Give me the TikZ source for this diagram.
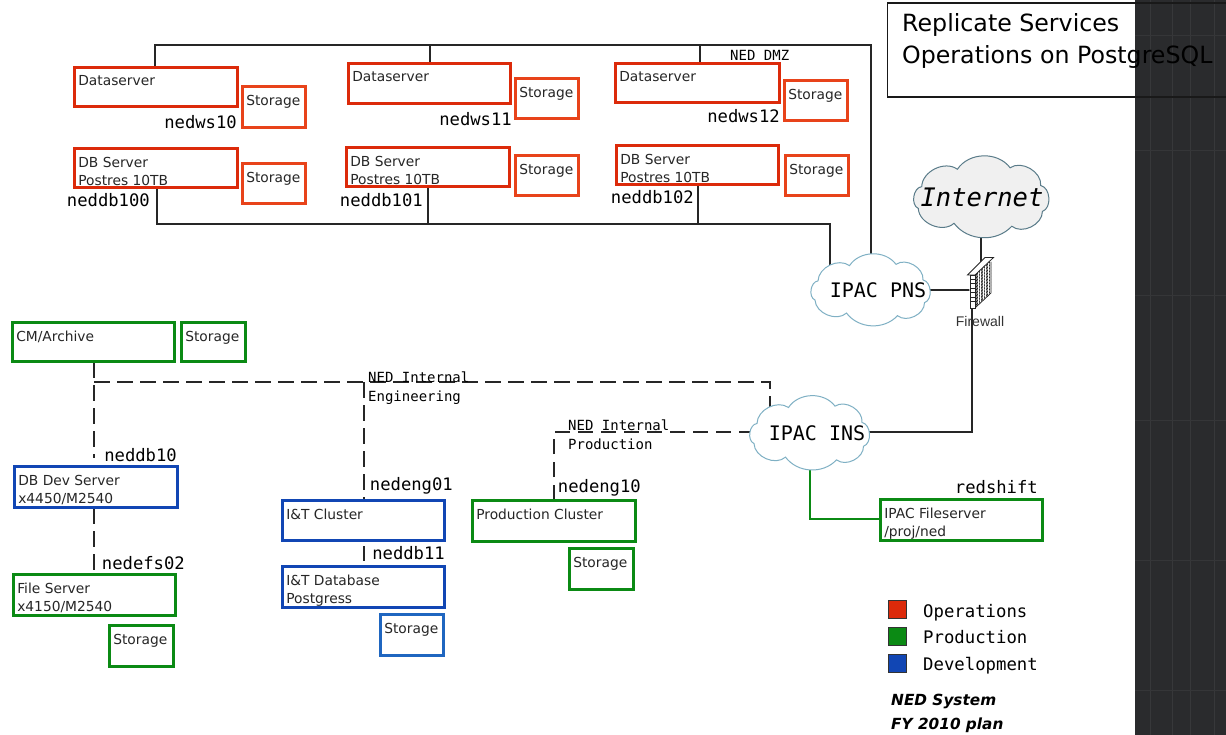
\documentclass[tikz,border=0pt]{standalone}
\usepackage{fontspec}
\setmainfont{DejaVu Sans}
\setmonofont{DejaVu Sans Mono}
\newfontfamily\armf{Liberation Sans}
\definecolor{opsred}{HTML}{DC2A0A}
\definecolor{stored}{HTML}{E8431A}
\definecolor{prodgreen}{HTML}{0B8A14}
\definecolor{devblue}{HTML}{1146B4}
\definecolor{devstore}{HTML}{1F66C0}
\definecolor{panel}{HTML}{2A2B2D}
\definecolor{cloudline}{HTML}{7FB0C4}
\tikzset{
  bx/.style={draw=#1,line width=2.8pt,inner sep=0pt,anchor=north west,font=\fontsize{13.8}{18.5}\selectfont,text=black!85},
  ln/.style={draw=black!85,line width=2pt},
  dsh/.style={ln,dash pattern=on 16pt off 7pt},
  dshb/.style={ln,line width=1.6pt,dash pattern=on 15pt off 8pt},
  tag/.style={font=\ttfamily\fontsize{17.2}{18}\selectfont,inner sep=0pt,anchor=base east,text=black},
  small/.style={font=\ttfamily\fontsize{14}{19.5}\selectfont,inner sep=0pt,anchor=base west,align=left,text=black},
  cltext/.style={inner sep=0pt,text=black},
  sq/.style={draw=black!80,line width=1.3pt,inner sep=0pt,minimum size=18pt,anchor=north west},
  leg/.style={font=\ttfamily\fontsize{17.3}{18}\selectfont,inner sep=0pt,anchor=base west},
  titl/.style={font=\itshape\bfseries\fontsize{15.3}{18}\selectfont,inner sep=0pt,anchor=base west}
}
% name, x1, y1, x2, y2, colour, text
\newcommand{\bxnode}[7]{%
  \node[bx=#6] (#1) at (#2-.7,#3-.7) {\parbox[c][\dimexpr #5pt-#3pt-1.4pt\relax][t]{\dimexpr #4pt-#2pt-1.4pt\relax}{\vspace{8.2pt}\hspace*{3.6pt}\parbox[t]{\dimexpr #4pt-#2pt-6pt\relax}{\raggedright #7}}};}
% centre x, centre y, half width, half height, fill, draw
\newcommand{\cloudshape}[6]{%
  \begin{scope}[shift={(#1,#2)},x=#3pt,y=-#4pt]
  \path[fill=#5,draw=#6,line width=1pt]
    (-.9,.31) to[bend left=75] (-.85,-.28) to[bend left=62] (-.325,-.75)
    to[bend left=55] (.45,-.79) to[bend left=65] (.9,-.31) to[bend left=75] (.925,.39)
    to[bend left=65] (.475,.79) to[bend left=50] (-.375,.71) to[bend left=65] cycle;
  \end{scope}}
\begin{document}
\begin{tikzpicture}[x=1pt,y=-1pt]
\useasboundingbox (0,0) rectangle (1226,735);
\fill[white] (0,0) rectangle (1226,735);
\fill[panel] (1135,0) rectangle (1226,735);
\begin{scope}
\clip (1135,0) rectangle (1226,735);
\foreach \x in {1150,1172,1190,1214} \draw[white!6!panel,line width=.6pt] (\x,0) -- (\x,735);
\foreach \y in {35,150,295,420,560,690} \draw[white!5!panel,line width=.6pt] (1135,\y) -- (1226,\y);
\end{scope}

% title box
\begin{scope}
\clip (0,0) rectangle (1226,735);
\node[draw=black!90,line width=1.8pt,inner sep=0pt,anchor=north west] (title) at (886.5,2) {\parbox[c][94pt][t]{360pt}{\hspace*{0pt}}};
\end{scope}
\node[font=\fontsize{23.7}{32}\selectfont,align=left,inner sep=0pt,anchor=north west] (titletext) at (902,13.5) {Replicate Services\\Operations on PostgreSQL};

% attachment points
\coordinate (a1) at (155,67);  \coordinate (a1t) at (155,45);
\coordinate (a2) at (430,63);  \coordinate (a2t) at (430,45);
\coordinate (a3) at (700,63);  \coordinate (a3t) at (700,45);
\coordinate (tr) at (871,45);  \coordinate (pt1) at (871,262);
\coordinate (d1) at (157,188); \coordinate (d1b) at (157,224);
\coordinate (d2) at (428,187); \coordinate (d2b) at (428,224);
\coordinate (d3) at (698,185); \coordinate (d3b) at (698,224);
\coordinate (bc) at (830,224); \coordinate (pt2) at (830,272);
\coordinate (pnc) at (871,290);
\coordinate (insc) at (810,432);
\coordinate (inc) at (981,197);
\coordinate (fwa) at (972,290);
\coordinate (fwb) at (972,305);
\coordinate (fwt) at (981,262);
\coordinate (fwc) at (972,432);
\coordinate (in1) at (810,460); \coordinate (in2) at (810,519); \coordinate (in3) at (880,519);
\coordinate (e0) at (94,382);  \coordinate (e1) at (94,362);
\coordinate (e2) at (94,458);  \coordinate (e3) at (94,508); \coordinate (e4) at (94,574);
\coordinate (e5) at (364,382); \coordinate (e6) at (364,500);
\coordinate (e7) at (364,546); \coordinate (e8) at (364,561);
\coordinate (e9) at (770,382); \coordinate (e10) at (770,412);
\coordinate (p1) at (554,500); \coordinate (p2) at (554,432); \coordinate (p3) at (760,432);

% connectors
\draw[ln] (a1) -- (a1t) -- (tr) -- (pt1);
\draw[ln] (a2) -- (a2t);
\draw[ln] (a3) -- (a3t);
\draw[ln] (d1) -- (d1b) -- (bc) -- (pt2);
\draw[ln] (d2) -- (d2b);
\draw[ln] (d3) -- (d3b);
\draw[ln] (fwa) -- (pnc);
\draw[ln] (fwt) -- (inc);
\draw[ln] (fwb) -- (fwc) -- (insc);
\draw[draw=prodgreen,line width=2.6pt] (in1) -- (in2) -- (in3);
\draw[dsh] (e1) -- (e2);
\draw[dsh] (e3) -- (e4);
\draw[dsh] (e0) -- (e9) -- (e10);
\draw[dsh] (e5) -- (e6);
\draw[ln] (e7) -- (e8);
\draw[dshb] (p1) -- (p2) -- (p3);

% clouds
\cloudshape{869}{290}{60}{32.5}{white}{cloudline}
\cloudshape{808}{433}{60}{34}{white}{cloudline}
\cloudshape{979.5}{197}{68}{37}{black!6}{black!30!cloudline}
\node[cltext,font=\ttfamily\fontsize{20}{20}\selectfont] (pns) at (878,290) {IPAC PNS};
\node[cltext,font=\ttfamily\fontsize{20}{20}\selectfont] (ins) at (817,433) {IPAC INS};
\node[cltext,font=\ttfamily\itshape\fontsize{25.5}{26}\selectfont] (inet) at (982,197) {Internet};

% firewall
\fill[white] (969,274) -- (992,258) -- (991,295) -- (975,308) -- (970,308) -- cycle;
\begin{scope}
\clip (975,275) -- (991,260) -- (991,293) -- (975,308) -- cycle;
\fill[black!40] (975,258) rectangle (991,308);
\foreach \k in {0,...,11}
  \draw[black!90,line width=.7pt] (975,276+\k*3) -- (991,261+\k*3);
\foreach \k in {0,...,6}
  \draw[white,line width=.5pt] (978+\k*2.5,255) -- (978+\k*2.5,308);
\end{scope}
\draw[black!85,line width=.7pt] (975,308) -- (991,293) -- (991,262);
\draw[black!85,line width=.8pt,fill=white] (970.5,275) rectangle (975,308);
\foreach \y in {279,283.5,288,292.5,297,301.5}
  \draw[black!85,line width=.8pt] (970.5,\y) -- (975,\y);
\draw[black!85,line width=.8pt,fill=white] (967.5,275) -- (985,257.5) -- (993.5,257.5) -- (975,275) -- cycle;
\node[font=\armf\fontsize{14}{14}\selectfont,inner sep=0pt,text=black!80] (fwl) at (980,321) {Firewall};

% red
\bxnode{ds1}{74}{67}{238}{107}{opsred}{Dataserver}
\bxnode{st1}{242}{86}{306}{128}{stored}{Storage}
\bxnode{db1}{74}{148}{238}{188}{opsred}{DB Server\\Postres 10TB}
\bxnode{st2}{242}{163}{306}{204}{stored}{Storage}
\bxnode{ds2}{348}{63}{511}{104}{opsred}{Dataserver}
\bxnode{st3}{515}{78}{579}{119}{stored}{Storage}
\bxnode{db2}{346}{147}{510}{187}{opsred}{DB Server\\Postres 10TB}
\bxnode{st4}{515}{155}{579}{196}{stored}{Storage}
\bxnode{ds3}{615}{63}{780}{103}{opsred}{Dataserver}
\bxnode{st5}{784}{80}{848}{121}{stored}{Storage}
\bxnode{db3}{616}{145}{779}{185}{opsred}{DB Server\\Postres 10TB}
\bxnode{st6}{785}{155}{849}{196}{stored}{Storage}
% green / blue
\bxnode{cm}{12}{322}{175}{362}{prodgreen}{CM/Archive}
\bxnode{st7}{181}{322}{246}{362}{prodgreen}{Storage}
\bxnode{dev}{14}{466}{178}{508}{devblue}{DB Dev Server\\x4450/M2540}
\bxnode{fs}{13}{574}{176}{616}{prodgreen}{File Server\\x4150/M2540}
\bxnode{st8}{109}{625}{174}{667}{prodgreen}{Storage}
\bxnode{it}{282}{500}{445}{541}{devblue}{I\&T Cluster}
\bxnode{itdb}{282}{566}{445}{608}{devblue}{I\&T Database\\Postgress}
\bxnode{st9}{380}{614}{444}{656}{devstore}{Storage}
\bxnode{pc}{472}{500}{636}{542}{prodgreen}{Production Cluster}
\bxnode{st10}{569}{548}{634}{590}{prodgreen}{Storage}
\bxnode{fsv}{880}{499}{1043}{541}{prodgreen}{IPAC Fileserver\\/proj/ned}

% host tags
\node[tag] (t1) at (237,129) {nedws10};
\node[tag] (t2) at (512,126) {nedws11};
\node[tag] (t3) at (780,123) {nedws12};
\node[tag] (t4) at (150,207) {neddb100};
\node[tag] (t5) at (423,207) {neddb101};
\node[tag] (t6) at (694,204) {neddb102};
\node[tag] (t7) at (177,461) {neddb10};
\node[tag] (t8) at (185,569) {nedefs02};
\node[tag] (t9) at (453,490) {nedeng01};
\node[tag] (t10) at (445,559) {neddb11};
\node[tag] (t11) at (641,492) {nedeng10};
\node[tag] (t12) at (1038,493) {redshift};

\node[small] (n1) at (730,61) {NED DMZ};
\node[small] (n2) at (368,382) {NED Internal};
\node[small] (n2b) at (368,401) {Engineering};
\node[small] (n3) at (568,430) {NED Internal};
\node[small] (n3b) at (568,449) {Production};

% legend
\node[sq,fill=opsred] (l1) at (888,600) {};
\node[sq,fill=prodgreen] (l2) at (888,627) {};
\node[sq,fill=devblue] (l3) at (888,654) {};
\node[leg] (lt1) at (923,617) {Operations};
\node[leg] (lt2) at (923,643.5) {Production};
\node[leg] (lt3) at (923,670.5) {Development};
\node[titl] (s1) at (891,705) {NED System};
\node[titl] (s2) at (891,729) {FY 2010 plan};
\end{tikzpicture}
\end{document}
